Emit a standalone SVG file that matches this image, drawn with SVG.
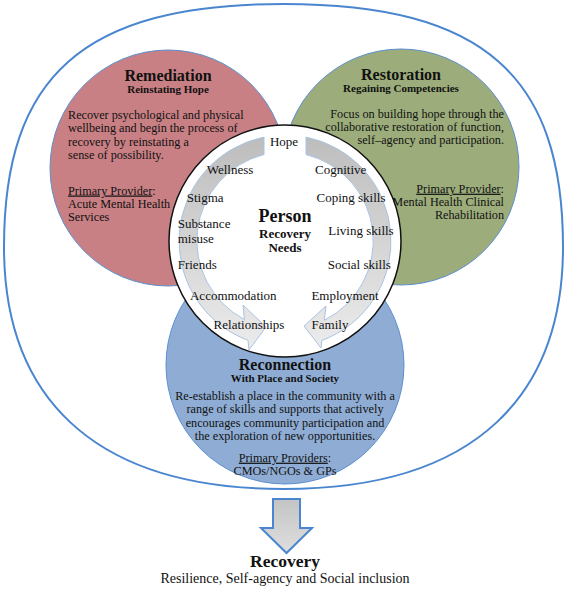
<svg xmlns="http://www.w3.org/2000/svg" width="567" height="589" viewBox="0 0 567 589">
<defs>
<linearGradient id="gband" x1="0" y1="0" x2="0" y2="1">
<stop offset="0" stop-color="#bdbdbd"/>
<stop offset="1" stop-color="#ececec"/>
</linearGradient>
<linearGradient id="gdown" x1="0" y1="0" x2="0" y2="1">
<stop offset="0" stop-color="#c4c4c4"/>
<stop offset="1" stop-color="#dedede"/>
</linearGradient>
<style>
text{font-family:"Liberation Serif","Times New Roman",serif;fill:#111;}
.t{font-size:16px;font-weight:bold;text-anchor:middle;}
.s{font-size:11px;font-weight:bold;text-anchor:middle;}
.p{font-size:12.2px;}
.n{font-size:13px;}
.c{text-anchor:middle;}
.r{text-anchor:end;}
.u{text-decoration:underline;}
.circ{stroke:#5b8fd0;stroke-width:1;}
.band{fill:url(#gband);stroke:#a9c3e3;stroke-width:1;}
</style>
</defs>
<rect width="567" height="589" fill="#ffffff"/>
<g id="outer">
<path d="M4,247 C4,77 82.3,4 283.5,4 C484.7,4 563,77 563,247 C563,392 479.2,489 283.5,489 C87.8,489 4,392 4,247 Z" fill="none" stroke="#4a86cf" stroke-width="2"/>
</g>
<g id="remediation">
<circle class="circ" cx="168" cy="168" r="118" fill="#c88084"/>
<text class="t" x="168" y="81">Remediation</text>
<text class="s" x="168" y="93">Reinstating Hope</text>
<text class="p" x="68" y="119">Recover psychological and physical</text>
<text class="p" x="68" y="132.3">wellbeing and begin the process of</text>
<text class="p" x="68" y="145.6">recovery by reinstating a</text>
<text class="p" x="68" y="158.9">sense of possibility.</text>
<text class="p" x="68" y="194.5"><tspan class="u">Primary Provider</tspan>:</text>
<text class="p" x="68" y="207.8">Acute Mental Health</text>
<text class="p" x="68" y="221.1">Services</text>
</g>
<g id="restoration">
<circle class="circ" cx="401" cy="167" r="118" fill="#9cad7b"/>
<text class="t" x="401" y="80">Restoration</text>
<text class="s" x="401" y="92">Regaining Competencies</text>
<text class="p r" x="504" y="117.5">Focus on building hope through the</text>
<text class="p r" x="504" y="130.8">collaborative restoration of function,</text>
<text class="p r" x="504" y="144.1">self–agency and participation.</text>
<text class="p r" x="504" y="192.7"><tspan class="u">Primary Provider</tspan>:</text>
<text class="p r" x="504" y="206">Mental Health Clinical</text>
<text class="p r" x="504" y="219.3">Rehabilitation</text>
</g>
<g id="reconnection">
<circle class="circ" cx="285" cy="365" r="119" fill="#8fadd4"/>
<text class="t" x="285" y="369.5">Reconnection</text>
<text class="s" x="285" y="381.7">With Place and Society</text>
<text class="p c" x="285" y="400">Re-establish a place in the community with a</text>
<text class="p c" x="285" y="413.3">range of skills and supports that actively</text>
<text class="p c" x="285" y="426.6">encourages community participation and</text>
<text class="p c" x="285" y="439.9">the exploration of new opportunities.</text>
<text class="p c" x="285" y="461.7"><tspan class="u">Primary Providers</tspan>:</text>
<text class="p c" x="285" y="475">CMOs/NGOs &amp; GPs</text>
</g>
<g id="person">
<circle cx="285" cy="241" r="116" fill="#ffffff" stroke="#111" stroke-width="1.5"/>
</g>
<g id="connectors">
<path class="band" d="M264,137.1 A106,106 0 0 0 248,340.3 L249,350 L266,327 L243,305 L244.4,319.5 A89,89 0 0 1 264,154.5 Z"/>
<path class="band" d="M306,137.1 A106,106 0 0 1 321.9,340.4 L321,348 L304,326 L326,306 L324.3,320.3 A89,89 0 0 0 306,154.5 Z"/>
<path d="M273,499 L300,499 L300,528 L312,528 L286.5,553 L261,528 L273,528 Z" fill="url(#gdown)" stroke="#4a86cf" stroke-width="2" stroke-linejoin="miter"/>
</g>
<g id="needs">
<text style="font-size:18px;font-weight:bold;text-anchor:middle" x="285" y="221.7">Person</text>
<text style="font-size:13px;font-weight:bold;text-anchor:middle" x="285" y="237.7">Recovery</text>
<text style="font-size:13px;font-weight:bold;text-anchor:middle" x="285" y="252.3">Needs</text>
<text class="n c" x="284" y="145.7">Hope</text>
<text class="n c" x="230" y="174">Wellness</text>
<text class="n c" x="340.7" y="174">Cognitive</text>
<text class="n" x="186.7" y="202.3">Stigma</text>
<text class="n c" x="351" y="202.3">Coping skills</text>
<text class="n" x="177.7" y="228.3">Substance</text>
<text class="n" x="177.7" y="243.3">misuse</text>
<text class="n c" x="361" y="235">Living skills</text>
<text class="n" x="177.7" y="269">Friends</text>
<text class="n c" x="359.3" y="269.3">Social skills</text>
<text class="n c" x="233.3" y="300">Accommodation</text>
<text class="n c" x="345" y="300">Employment</text>
<text class="n c" x="249" y="329">Relationships</text>
<text class="n c" x="330" y="329">Family</text>
</g>
<g id="recovery">
<text style="font-size:17.5px;font-weight:bold;text-anchor:middle" x="285" y="566.7">Recovery</text>
<text style="font-size:14px;text-anchor:middle" x="285" y="582.7">Resilience, Self-agency and Social inclusion</text>
</g>
</svg>
